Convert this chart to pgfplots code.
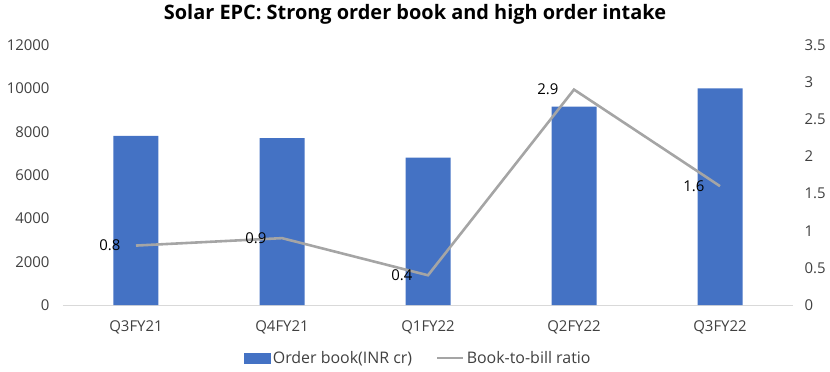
\documentclass[border=0pt]{standalone}
\usepackage{pgfplots}
\pgfplotsset{compat=1.18}
\usepackage{fontspec}
\setmainfont{Open Sans}
\definecolor{barblue}{HTML}{4472C4}
\definecolor{linegray}{HTML}{A5A5A5}
\definecolor{axgray}{HTML}{D9D9D9}
\definecolor{txt}{HTML}{404040}
\begin{document}
\begin{tikzpicture}
\path[use as bounding box] (-63bp,-67bp) rectangle (767bp,305bp);
\node[font=\fontsize{20}{22}\selectfont\bfseries, text=black] at (352bp,291bp) {Solar EPC: Strong order book and high order intake};
\begin{axis}[
  scale only axis, width=730bp, height=260bp,
  at={(0,0)}, anchor=south west,
  xmin=-0.5, xmax=4.5, ymin=0, ymax=12000,
  ybar, bar width=45bp,
  xtick=data, xticklabels={Q3FY21,Q4FY21,Q1FY22,Q2FY22,Q3FY22},
  ytick={0,2000,...,12000},
  scaled y ticks=false,
  axis x line*=bottom, axis y line*=left,
  y axis line style={draw=none},
  x axis line style={draw=axgray, line width=0.8pt, -},
  tick style={draw=none},
  /pgf/number format/assume math mode=true,
  /pgf/number format/1000 sep={},
  ticklabel style={font=\fontsize{15}{17}\selectfont, text=txt},
  yticklabel style={anchor=east, xshift=-10bp},
  xticklabel style={yshift=-8bp},
  clip=false,
]
\addplot[fill=barblue, draw=none] coordinates {(0,7800) (1,7700) (2,6800) (3,9150) (4,10000)};
\end{axis}
\begin{axis}[
  scale only axis, width=730bp, height=260bp,
  at={(0,0)}, anchor=south west,
  xmin=-0.5, xmax=4.5, ymin=0, ymax=3.5,
  ytick={0,0.5,...,3.5},
  yticklabels={0,0.5,1,1.5,2,2.5,3,3.5},
  axis x line=none, axis y line*=right,
  y axis line style={draw=none},
  tick style={draw=none},
  /pgf/number format/assume math mode=true,
  ticklabel style={font=\fontsize{15}{17}\selectfont, text=txt},
  yticklabel style={anchor=west, xshift=8bp},
  clip=false,
  legend style={at={(0.487,-0.204)}, anchor=center, draw=none, fill=none,
    legend columns=2, font=\fontsize{16}{18}\selectfont, text=txt,
    /tikz/every even column/.append style={column sep=22bp}},
  legend image code/.code={\draw[#1] (0bp,0bp) -- (26bp,0bp);},
]
\addlegendimage{legend image code/.code={\fill[barblue] (0bp,-5bp) rectangle (26bp,5bp);}}
\addlegendentry{Order book(INR cr)}
\addplot[color=linegray, line width=2.6pt,
  nodes near coords, point meta=explicit symbolic,
  every node near coord/.style={anchor=east, xshift=-11bp, font=\fontsize{15}{17}\selectfont, text=black}]
  table[meta=lab] {
x y lab
0 0.8 0.8
1 0.9 0.9
2 0.4 0.4
3 2.9 2.9
4 1.6 1.6
};
\addlegendentry{Book-to-bill ratio}
\end{axis}
\end{tikzpicture}
\end{document}
